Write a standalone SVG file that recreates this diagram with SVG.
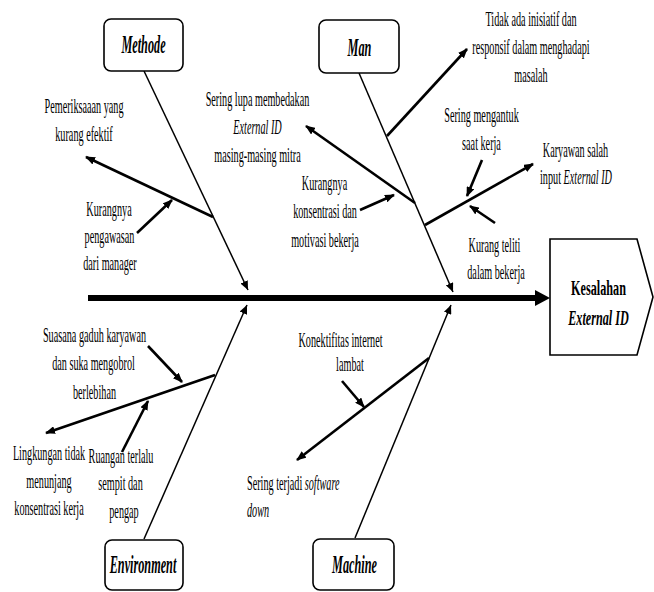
<svg xmlns="http://www.w3.org/2000/svg" width="654" height="592" viewBox="0 0 654 592">
<style>
text{font-family:"Liberation Serif","Times New Roman",serif;font-size:21px;fill:#000;text-anchor:middle}
.lt{text-anchor:start}
.it{font-style:italic}
.bx{font-size:25px;font-weight:bold;font-style:italic}
.hd{font-size:21px;font-weight:bold}
.box{fill:#fff;stroke:#000;stroke-width:1.6}
.bone{stroke:#000;stroke-width:1.5;fill:none;marker-end:url(#ah)}
.sub{stroke:#000;stroke-width:2.6;fill:none;marker-end:url(#ah2)}
</style>
<defs>
<marker id="ah" markerUnits="userSpaceOnUse" markerWidth="9" markerHeight="8" refX="9" refY="4" orient="auto"><path d="M0,0 L9,4 L0,8 z" fill="#000"/></marker>
<marker id="ah2" markerUnits="userSpaceOnUse" markerWidth="10" markerHeight="8" refX="9" refY="4" orient="auto"><path d="M0,0 L10,4 L0,8 z" fill="#000"/></marker>
</defs>
<rect width="654" height="592" fill="#fff"/>

<g id="connectors">
<line x1="88" y1="298" x2="540" y2="298" stroke="#000" stroke-width="6"/>
<polygon points="535,290 550,298 535,306" fill="#000"/>
<line class="bone" x1="144" y1="71" x2="248" y2="290"/>
<line class="bone" x1="359" y1="73" x2="453" y2="292"/>
<line class="bone" x1="144" y1="539" x2="247" y2="305"/>
<line class="bone" x1="355" y1="538" x2="451" y2="305"/>
<line class="sub" x1="213" y1="217" x2="86" y2="157"/>
<line class="sub" x1="137" y1="233" x2="172" y2="200"/>
<line class="sub" x1="415" y1="203" x2="306" y2="126"/>
<line class="sub" x1="360" y1="210" x2="394" y2="195"/>
<line class="sub" x1="387" y1="136" x2="467" y2="49"/>
<line class="sub" x1="425" y1="225" x2="533" y2="164"/>
<line class="sub" x1="482" y1="160" x2="467" y2="196"/>
<line class="sub" x1="495" y1="223" x2="470" y2="206"/>
<line class="sub" x1="215" y1="375" x2="46" y2="433"/>
<line class="sub" x1="148" y1="346" x2="182" y2="382"/>
<line class="sub" x1="122" y1="452" x2="148" y2="401"/>
<line class="sub" x1="429" y1="358" x2="297" y2="460"/>
<line class="sub" x1="342" y1="381" x2="364" y2="407"/>
</g>

<g id="node-methode">
<rect class="box" x="104" y="19" width="79" height="52" rx="7"/>
<text class="bx" transform="matrix(0.49 0 0 1 143.5 53)">Methode</text>
</g>
<g id="node-man">
<rect class="box" x="319" y="20" width="80" height="53" rx="7"/>
<text class="bx" transform="matrix(0.49 0 0 1 359.5 56)">Man</text>
</g>
<g id="node-environment">
<rect class="box" x="105" y="540" width="78" height="50" rx="7"/>
<text class="bx" transform="matrix(0.49 0 0 1 143 573)">Environment</text>
</g>
<g id="node-machine">
<rect class="box" x="313" y="539" width="81" height="51" rx="7"/>
<text class="bx" transform="matrix(0.49 0 0 1 354.5 573)">Machine</text>
</g>
<g id="node-head">
<polygon class="box" points="550,239 637,239 653,297 637,355 550,355"/>
<text class="hd" transform="matrix(0.58 0 0 1 598.5 295)">Kesalahan</text>
<text class="hd it" transform="matrix(0.58 0 0 1 598.5 325)">External ID</text>
</g>

<g id="cause-pemeriksaan">
<text transform="matrix(0.486 0 0 1 84 113)">Pemeriksaaan yang</text>
<text transform="matrix(0.486 0 0 1 84 141)">kurang efektif</text>
</g>
<g id="cause-pengawasan">
<text transform="matrix(0.486 0 0 1 109 216)">Kurangnya</text>
<text transform="matrix(0.486 0 0 1 109.5 243)">pengawasan</text>
<text transform="matrix(0.486 0 0 1 110 270)">dari manager</text>
</g>
<g id="cause-lupa">
<text transform="matrix(0.486 0 0 1 257.5 106)">Sering lupa membedakan</text>
<text class="it" transform="matrix(0.486 0 0 1 257.5 134)">External ID</text>
<text transform="matrix(0.486 0 0 1 257.5 162)">masing-masing mitra</text>
</g>
<g id="cause-inisiatif">
<text transform="matrix(0.486 0 0 1 531 26)">Tidak ada inisiatif dan</text>
<text transform="matrix(0.486 0 0 1 531 54)">responsif dalam menghadapi</text>
<text transform="matrix(0.486 0 0 1 531 82)">masalah</text>
</g>
<g id="cause-mengantuk">
<text transform="matrix(0.486 0 0 1 481.5 122)">Sering mengantuk</text>
<text transform="matrix(0.486 0 0 1 481.5 150)">saat kerja</text>
</g>
<g id="cause-salah-input">
<text transform="matrix(0.486 0 0 1 575.5 157)">Karyawan salah</text>
<text transform="matrix(0.486 0 0 1 576 184)">input <tspan class="it">External ID</tspan></text>
</g>
<g id="cause-konsentrasi">
<text transform="matrix(0.486 0 0 1 324.5 190)">Kurangnya</text>
<text transform="matrix(0.486 0 0 1 325 218)">konsentrasi dan</text>
<text transform="matrix(0.486 0 0 1 325 247)">motivasi bekerja</text>
</g>
<g id="cause-teliti">
<text transform="matrix(0.486 0 0 1 494.5 252)">Kurang teliti</text>
<text transform="matrix(0.486 0 0 1 496 279)">dalam bekerja</text>
</g>
<g id="cause-gaduh">
<text transform="matrix(0.486 0 0 1 94.5 342)">Suasana gaduh karyawan</text>
<text transform="matrix(0.486 0 0 1 93.5 370)">dan suka mengobrol</text>
<text transform="matrix(0.486 0 0 1 94.5 399)">berlebihan</text>
</g>
<g id="cause-lingkungan">
<text transform="matrix(0.486 0 0 1 49 460)">Lingkungan tidak</text>
<text transform="matrix(0.486 0 0 1 49 488)">menunjang</text>
<text transform="matrix(0.486 0 0 1 49 515)">konsentrasi kerja</text>
</g>
<g id="cause-ruangan">
<text transform="matrix(0.486 0 0 1 121 463)">Ruangan terlalu</text>
<text transform="matrix(0.486 0 0 1 120.5 490)">sempit dan</text>
<text transform="matrix(0.486 0 0 1 124 518)">pengap</text>
</g>
<g id="cause-internet">
<text transform="matrix(0.486 0 0 1 340.5 347)">Konektifitas internet</text>
<text transform="matrix(0.486 0 0 1 350 371)">lambat</text>
</g>
<g id="cause-software">
<text class="lt" transform="matrix(0.486 0 0 1 247 490)">Sering terjadi <tspan class="it">software</tspan></text>
<text class="lt it" transform="matrix(0.486 0 0 1 247 517)">down</text>
</g>
</svg>
